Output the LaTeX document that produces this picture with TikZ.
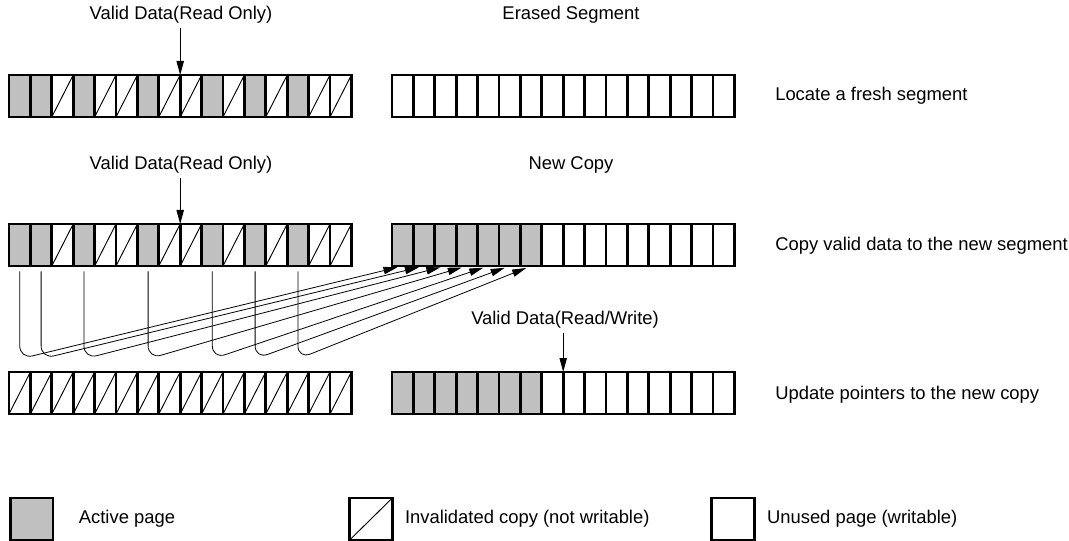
\documentclass[tikz,border=0pt]{standalone}
\usepackage{fontspec}
\setmainfont{Liberation Sans}
\usetikzlibrary{arrows.meta, positioning}

\definecolor{pagegray}{RGB}{192,192,192}

\tikzset{
  page/.style={draw, line width=2pt, minimum width=16.05pt, minimum height=31.5pt, inner sep=0pt, outer sep=0pt},
  actpage/.style={page, fill=pagegray},
  invpage/.style={page, path picture={\draw[line width=0.7pt] (path picture bounding box.south west) -- (path picture bounding box.north east);}},
  freepage/.style={page},
  lbl/.style={font=\fontsize{13.8}{16}\selectfont},
  ptr/.style={-{Triangle[width=5.5pt,length=10.5pt]}, line width=0.7pt},
}

\begin{document}
\begin{tikzpicture}[x=0.75pt, y=-0.75pt]
\useasboundingbox (0,0) rectangle (1069,541);

% segments: old one on the left, new one on the right
\foreach \t [count=\i] in {actpage,actpage,invpage,actpage,invpage,invpage,actpage,invpage,invpage,actpage,invpage,actpage,invpage,actpage,invpage,invpage}
  \node[\t] (a\i) at ({9+21.4*(\i-0.5)},96) {};
\foreach \i in {1,...,16}
  \node[freepage] (d\i) at ({392+21.4*(\i-0.5)},96) {};

\foreach \t [count=\i] in {actpage,actpage,invpage,actpage,invpage,invpage,actpage,invpage,invpage,actpage,invpage,actpage,invpage,actpage,invpage,invpage}
  \node[\t] (b\i) at ({9+21.4*(\i-0.5)},245) {};
\foreach \t [count=\i] in {actpage,actpage,actpage,actpage,actpage,actpage,actpage,freepage,freepage,freepage,freepage,freepage,freepage,freepage,freepage,freepage}
  \node[\t] (c\i) at ({392+21.4*(\i-0.5)},245) {};

\foreach \i in {1,...,16}
  \node[invpage] (e\i) at ({9+21.4*(\i-0.5)},393) {};
\foreach \t [count=\i] in {actpage,actpage,actpage,actpage,actpage,actpage,actpage,freepage,freepage,freepage,freepage,freepage,freepage,freepage,freepage,freepage}
  \node[\t] (f\i) at ({392+21.4*(\i-0.5)},393) {};

% labels above the segments
\node[lbl] (vd1) at (181,15) {Valid Data(Read Only)};
\draw[ptr] (vd1.south -| a8.north east) -- (a8.north east);
\node[lbl] (es) at (571,15) {Erased Segment};

\node[lbl] (vd2) at (181,165) {Valid Data(Read Only)};
\draw[ptr] (vd2.south -| b8.north east) -- (b8.north east);
\node[lbl] (nc) at (571,165) {New Copy};

\node[lbl] (vd3) at (565,320) {Valid Data(Read/Write)};
\draw[ptr] (vd3.south -| f8.north east) -- (f8.north east);

% steps
\node[lbl, anchor=west, inner xsep=0pt] (st1) at (775,96) {Locate a fresh segment};
\node[lbl, anchor=west, inner xsep=0pt] (st2) at (775,246) {Copy valid data to the new segment};
\node[lbl, anchor=west, inner xsep=0pt] (st3) at (775,395) {Update pointers to the new copy};

% copying
\coordinate (low) at (0,359);
\foreach \s/\k in {1/1,2/2,4/3,7/4,10/5,12/6,14/7}
  \draw[ptr, line width=0.6pt, rounded corners=10pt, shorten <=4pt, shorten >=4pt]
    (b\s.south) -- (b\s.south |- low) -- (c\k.south);

% legend
\node[actpage, minimum width=32pt] (lg1) at (31.5,519) {};
\node[lbl, right=16pt of lg1] (lt1) {Active page};
\node[invpage, minimum width=32pt] (lg2) at (371,519) {};
\node[lbl, right=6pt of lg2] (lt2) {Invalidated copy (not writable)};
\node[freepage, minimum width=32pt] (lg3) at (733,519) {};
\node[lbl, right=6pt of lg3] (lt3) {Unused page (writable)};
\end{tikzpicture}
\end{document}
